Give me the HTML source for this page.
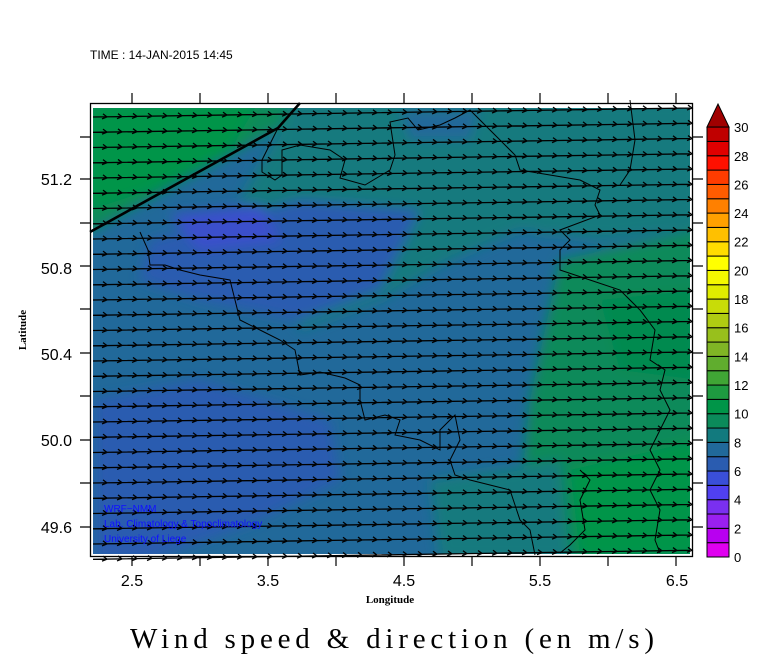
<!DOCTYPE html>
<html><head><meta charset="utf-8"><style>
body{margin:0;background:#fff;width:768px;height:662px;overflow:hidden;font-family:"Liberation Sans",sans-serif}
</style></head><body>
<svg id="s" width="768" height="662" xmlns="http://www.w3.org/2000/svg">
<defs><filter id="b" x="-20%" y="-20%" width="140%" height="140%"><feGaussianBlur stdDeviation="6"/></filter>
<clipPath id="c"><rect x="93" y="108" width="597" height="446"/></clipPath></defs>
<g clip-path="url(#c)">
<rect x="90" y="100" width="610" height="460" fill="#21699a"/>
<g filter="url(#b)">
<polygon points="80,100 310,100 300,115 278,128 90,232 80,232" fill="#0b8a5a"/>
<polygon points="90,100 260,100 230,150 150,190 90,210" fill="#009548"/>
<polygon points="290,100 700,100 700,230 600,240 520,230 450,260 380,300 300,330 280,250 240,200 280,130" fill="#127a7e"/>
<polygon points="480,100 690,100 690,180 600,230 540,235" fill="#127a7e"/>
<polygon points="150,240 300,200 420,210 380,290 300,320 200,300 140,280" fill="#2a5cb0"/>
<polygon points="170,215 260,205 280,240 200,250" fill="#3b4fcc"/>
<polygon points="95,400 200,380 330,420 340,480 260,520 150,560 95,560" fill="#2a5cb0"/>
<polygon points="560,260 700,230 700,560 560,560 520,500 530,400" fill="#0b8a5a"/>
<polygon points="600,300 700,290 700,380 620,370" fill="#008a50"/>
<polygon points="570,470 700,440 700,560 580,560" fill="#009548"/>
<polygon points="430,480 560,460 570,560 440,560" fill="#127a7e"/>
<polygon points="400,110 480,110 470,140 410,140" fill="#21699a"/>
</g>
</g>
<g id="arr" stroke="#000" fill="none" stroke-width="1.3"></g>
<g stroke="#000" fill="none" stroke-width="1">
<path d="M278,128 L262,160 262,172 275,180 282,175 282,150 L300,145 330,150 345,160 340,178 365,185 L390,170 395,155 390,122 408,118 418,130 440,125 455,118 470,110 485,125 500,140 515,155 520,170 550,175 580,180 600,190 595,205 600,215 560,230 570,240 560,250 560,270 590,280 620,290 640,310 655,330 650,360 665,370 660,390 670,410 660,430 650,450 660,470 650,490 660,510 655,540 660,553"/>
<path d="M140,232 L148,250 150,265 165,265 180,270 200,275 230,280 240,320 260,330 280,340 295,350 300,375 320,372 345,378 360,385 360,400 365,420 385,415 400,420 395,435 420,440 440,450 440,430 455,415 460,440 450,460 455,475 470,480 490,485 510,490 520,520 530,530 535,555"/>
<path d="M580,470 L590,480 580,500 585,530 570,545 560,553"/>
<path d="M630,100 L635,140 630,170 620,185"/>
</g>
<path d="M90,232 L278,128 L300,103" stroke="#000" stroke-width="2.6" fill="none"/>
<rect x="90.5" y="103.5" width="602" height="453" fill="none" stroke="#000" stroke-width="1.3"/>
<g id="tk" stroke="#000" stroke-width="1.2"></g>
<g font-family="Liberation Sans,sans-serif" font-size="16" text-anchor="end" id="yl">
<text x="72" y="185">51.2</text><text x="72" y="274">50.8</text><text x="72" y="360">50.4</text><text x="72" y="446">50.0</text><text x="72" y="533">49.6</text>
</g>
<g font-family="Liberation Sans,sans-serif" font-size="16" text-anchor="middle">
<text x="132" y="586">2.5</text><text x="268" y="586">3.5</text><text x="404" y="586">4.5</text><text x="540" y="586">5.5</text><text x="677" y="586">6.5</text>
</g>
<text x="90" y="59" font-size="12">TIME : 14-JAN-2015 14:45</text>
<text x="390" y="603" font-size="11" font-weight="bold" font-family="Liberation Serif,serif" text-anchor="middle">Longitude</text>
<text x="26" y="330" font-size="11" font-weight="bold" font-family="Liberation Serif,serif" text-anchor="middle" transform="rotate(-90 26 330)">Latitude</text>
<text x="392" y="648" font-size="29" font-family="Liberation Serif,serif" text-anchor="middle" textLength="524" lengthAdjust="spacing">Wind speed &amp; direction (en m/s)</text>
<g font-size="10" fill="#1010ff">
<text x="104" y="512">WRF−NMM</text><text x="104" y="527">Lab. Climatology &amp; Topoclimatology</text><text x="104" y="542">University of Liege</text>
</g>
<g id="cb"></g>
</svg>
<script>
var ns="http://www.w3.org/2000/svg",a=document.getElementById('arr'),d="";
for(var r=0;r<30;r++){var y=114+r*15.25;
d+="M93,"+(y+3).toFixed(1)+" L690,"+(y-6).toFixed(1)+" ";
for(var x=100;x<688;x+=15){var yy=y+3-(x-93)*9/597;d+="M"+(x+3)+","+(yy-3)+" L"+(x+7)+","+yy+" L"+(x+2)+","+(yy+2)+" ";}}
var p=document.createElementNS(ns,'path');p.setAttribute('d',d);a.appendChild(p);
var t=document.getElementById('tk'),td="";
[137,179,223,266,309,353,396,440,483,527].forEach(function(y){td+="M80,"+y+"h10 M693,"+y+"h10 ";});
for(var i=0;i<9;i++){var x=132+i*68;td+="M"+x+",556v10 M"+x+",103v-10 ";}
var q=document.createElementNS(ns,'path');q.setAttribute('d',td);t.appendChild(q);
var cols=["#e000f0","#b800f0","#9a20f0","#7a30f0","#5040f0","#3a4fd8","#2a5cb0","#21699a","#127a7e","#0b8a5a","#009548","#1e9a40","#40a535","#60ad2e","#80b525","#98c01c","#b0cc12","#c8dc08","#e0ec00","#f4f800","#ffff00","#ffdc00","#ffc000","#ffa000","#ff8000","#ff5c00","#ff3c00","#ff1000","#e00000","#c00000"];
var cb=document.getElementById('cb'),h="";
for(var k=0;k<30;k++){var y0=557-(k+1)*14.33;h+='<rect x="707" y="'+y0.toFixed(2)+'" width="22" height="14.33" fill="'+cols[k]+'" stroke="#000" stroke-width="1"/>';
if(k%2==0)h+='<text x="734" y="'+(557-k*14.33+5).toFixed(1)+'" font-size="13">'+k+'</text>';}
h+='<text x="734" y="'+(557-30*14.33+5).toFixed(1)+'" font-size="13">30</text>';
h+='<polygon points="707,127 729,127 718,104" fill="#a00000" stroke="#000"/>';
cb.innerHTML=h;
</script>
</body></html>
